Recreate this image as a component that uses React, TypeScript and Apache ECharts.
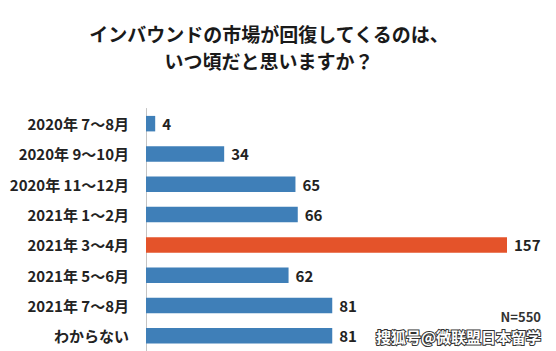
import React, { useEffect, useRef } from "react";
import * as echarts from "echarts";

const categories = [
  "2020年 7～8月",
  "2020年 9～10月",
  "2020年 11～12月",
  "2021年 1～2月",
  "2021年 3～4月",
  "2021年 5～6月",
  "2021年 7～8月",
  "わからない",
];
const values = [4, 34, 65, 66, 157, 62, 81, 81];
const highlightIndex = 4;
const titleLines = ["インバウンドの市場が回復してくるのは、", "いつ頃だと思いますか？"];
const noteText = "N=550";
const watermarkText = "搜狐号@微联盟日本留学";

const BLUE = "#3f7fb8";
const ORANGE = "#e4532a";
const FONT = "'Noto Sans CJK JP', 'Noto Sans', sans-serif";

export default function App() {
  const ref = useRef<HTMLDivElement>(null);
  useEffect(() => {
    document.body.style.margin = "0";
    const chart = echarts.init(ref.current!, null, { renderer: "svg" });
    chart.setOption({
      animation: false,
      backgroundColor: "#ffffff",
      grid: { left: 146, top: 108.5, width: 361, height: 249, containLabel: false },
      xAxis: {
        type: "value",
        min: 0,
        max: 157,
        show: false,
      },
      yAxis: {
        type: "category",
        data: categories,
        inverse: true,
        axisLine: { show: true, lineStyle: { color: "#c4c4c4", width: 1 } },
        axisTick: { show: false },
        axisLabel: {
          margin: 17,
          fontSize: 15,
          fontWeight: "bold",
          color: "#222",
          fontFamily: FONT,
        },
      },
      series: [
        {
          type: "bar",
          barWidth: 15.5,
          data: values.map((v, i) => ({
            value: v,
            itemStyle: { color: i === highlightIndex ? ORANGE : BLUE },
          })),
          label: {
            show: true,
            position: "right",
            distance: 7,
            fontSize: 15,
            fontWeight: "bold",
            color: "#222",
            fontFamily: FONT,
          },
        },
      ],
      graphic: [
        {
          type: "text",
          x: 269,
          y: 33,
          style: {
            text: titleLines[0],
            fontSize: 19,
            fontWeight: "bold",
            fill: "#1a1a1a",
            fontFamily: FONT,
            align: "center",
            verticalAlign: "middle",
          },
        },
        {
          type: "text",
          x: 269,
          y: 60,
          style: {
            text: titleLines[1],
            fontSize: 19,
            fontWeight: "bold",
            fill: "#1a1a1a",
            fontFamily: FONT,
            align: "center",
            verticalAlign: "middle",
          },
        },
        {
          type: "text",
          x: 541,
          y: 316,
          style: {
            text: noteText,
            fontSize: 13,
            fontWeight: "bold",
            fill: "#333",
            fontFamily: FONT,
            align: "right",
            verticalAlign: "middle",
          },
        },
        {
          type: "text",
          x: 541,
          y: 336,
          style: {
            text: watermarkText,
            fontSize: 15,
            fontWeight: "bold",
            fill: "#ffffff",
            stroke: "#333",
            lineWidth: 2,
            fontFamily: FONT,
            align: "right",
            verticalAlign: "middle",
          },
        },
      ],
    });
    return () => chart.dispose();
  }, []);
  return <div ref={ref} style={{ width: 556, height: 351 }} />;
}
